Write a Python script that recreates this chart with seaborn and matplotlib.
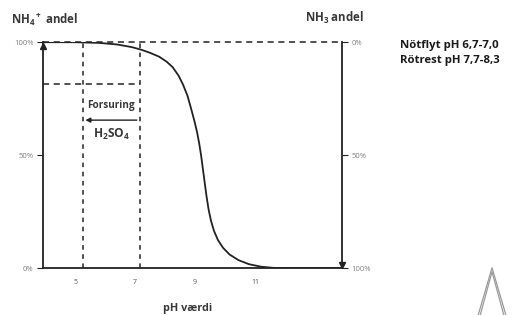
import pandas as pd
import seaborn as sns
import matplotlib.pyplot as plt
from matplotlib.lines import Line2D

# NH4+ share of total ammonia vs pH
ph = [3.9, 5.0, 5.8, 6.4, 6.9, 7.2, 7.5, 7.8, 8.05, 8.25, 8.45, 8.6, 8.75,
      8.88, 8.98, 9.07, 9.14, 9.2, 9.26, 9.32, 9.38, 9.45, 9.53, 9.63, 9.76,
      9.93, 10.15, 10.45, 10.8, 11.2, 11.6, 12.0, 13.9]
nh4_share = [1.0, 1.0, 0.997, 0.99, 0.978, 0.967, 0.953, 0.936, 0.914, 0.89,
             0.852, 0.812, 0.762, 0.70, 0.65, 0.60, 0.55, 0.50, 0.44, 0.38,
             0.32, 0.26, 0.21, 0.165, 0.125, 0.09, 0.06, 0.035, 0.017, 0.006,
             0.001, 0.0, 0.0]

x_ticks = [5, 7, 9, 11]
left_labels = ["0%", "50%", "100%"]
right_labels = ["100%", "50%", "0%"]

acid_from, acid_to = 7.15, 5.25   # Forsuring: pH lowered with H2SO4
acid_level = 0.814

df = pd.DataFrame({"ph": ph, "nh4": nh4_share})

sns.set_theme(style="white")
plt.rcParams["font.family"] = ["Open Sans", "DejaVu Sans"]
plt.rcParams["mathtext.fontset"] = "custom"
plt.rcParams["mathtext.rm"] = "Open Sans:bold"
plt.rcParams["mathtext.default"] = "rm"

fig = plt.figure(figsize=(5.12, 3.15), dpi=100)
ax = fig.add_axes([0.084, 0.149, 0.584, 0.717])
line_c = "#222222"
txt_c = "#383838"

xmin, xmax = 3.93, 13.9
sns.lineplot(data=df, x="ph", y="nh4", ax=ax, color=line_c, lw=1.3)
ax.set_xlim(xmin, xmax)
ax.set_ylim(0, 1)

# dashed guides
ax.plot([xmin, xmax], [1, 1], ls=(0, (4, 3)), color=line_c, lw=1.1, clip_on=False)
for xv in (acid_to, acid_from):
    ax.plot([xv, xv], [0, 1], ls=(0, (3, 3)), color=line_c, lw=1.1)
ax.plot([xmin, acid_from], [acid_level, acid_level], ls=(0, (4, 3)), color=line_c, lw=1.1)

# acidification arrow and labels
ax.annotate("", xy=(acid_to, 0.655), xytext=(acid_from, 0.655),
            arrowprops=dict(arrowstyle="-|>", color=line_c, lw=1.0, mutation_scale=7))
ax.text((acid_to + acid_from) / 2, 0.72, "Forsuring", ha="center", va="center",
        fontsize=7.2, color=txt_c, fontweight="bold",
        bbox=dict(facecolor="white", edgecolor="none", pad=0.3))
ax.text(6.2, 0.59, r"H$_2$SO$_4$", ha="center", va="center", fontsize=8.6,
        color=txt_c, fontweight="bold")

# spines
ax.spines["top"].set_visible(False)
for s in ("left", "bottom", "right"):
    ax.spines[s].set_color(line_c)
    ax.spines[s].set_linewidth(1.3)
ax.plot([xmin], [0.985], marker="^", color=line_c, ms=5, clip_on=False)
ax.plot([xmax], [0.015], marker="v", color=line_c, ms=5, clip_on=False)

ax.set_xticks(x_ticks)
ax.set_xticklabels([str(t) for t in x_ticks])
ax.tick_params(axis="x", length=0, pad=8, labelsize=5, labelcolor="#555555")
ax.set_yticks([0, 0.5, 1])
ax.set_yticklabels(left_labels)
ax.tick_params(axis="y", left=True, length=4, width=0.8, color=line_c, pad=3,
               labelsize=5.5, labelcolor="#808080")
ax.set_xlabel("")
ax.set_ylabel("")

ax2 = ax.twinx()
ax2.set_ylim(0, 1)
ax2.set_yticks([0, 0.5, 1])
ax2.set_yticklabels(right_labels)
ax2.tick_params(axis="y", right=True, length=4, width=0.8, color=line_c, pad=3,
                labelsize=5.5, labelcolor="#808080")
for s in ax2.spines.values():
    s.set_visible(False)

# headings
fig.text(0.022, 0.937, r"NH$_4$$^+$ andel", fontsize=8.3, color=txt_c,
         fontweight="bold", va="center")
fig.text(0.595, 0.944, r"NH$_3$ andel", fontsize=8.3, color=txt_c,
         fontweight="bold", va="center")
fig.text(0.781, 0.855, "Nötflyt pH 6,7-7,0", fontsize=8.2, color="#1a1a1a",
         fontweight="bold", va="center")
fig.text(0.781, 0.808, "Rötrest pH 7,7-8,3", fontsize=8.2, color="#1a1a1a",
         fontweight="bold", va="center")
fig.text(0.367, 0.022, "pH værdi", fontsize=7.8, color=txt_c,
         fontweight="bold", ha="center", va="center")

# partial logo at the bottom right
for dx in (0.0, 0.008):
    fig.add_artist(Line2D([0.934 + dx / 2, 0.961, 0.988 - dx / 2],
                          [0.0, 0.15 - dx * 1.6, 0.0],
                          transform=fig.transFigure, color="#9a9a9a", lw=0.9))

plt.savefig("out.png", dpi=100)
